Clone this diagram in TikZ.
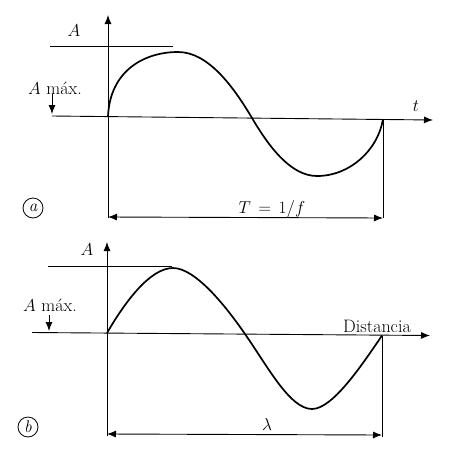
\documentclass[tikz,border=0pt]{standalone}
\usetikzlibrary{arrows.meta}
\begin{document}
\begin{tikzpicture}[x=1pt,y=-1pt,
  axis/.style={line width=0.9pt,-{Latex[length=9pt,width=7pt]}},
  thin line/.style={line width=0.9pt},
  dim/.style={line width=0.9pt,{Latex[length=9pt,width=7pt]}-{Latex[length=9pt,width=7pt]}},
  wave/.style={line width=1.7pt},
  lbl/.style={font=\fontsize{18}{20}\selectfont,inner sep=0pt},
  tag/.style={circle,draw,line width=0.8pt,minimum size=20pt,inner sep=0pt,font=\fontsize{17}{19}\selectfont\itshape}]
\useasboundingbox (0,0) rectangle (450,448);
% ---------- panel a ----------
\coordinate (aO) at (108,116.5);
\coordinate (aTop) at (108,15);
\coordinate (aBot) at (108,218);
\coordinate (aL) at (52,116);
\coordinate (aR) at (433,120);
\coordinate (aPk) at (178,52);
\coordinate (aX) at (252,118);
\coordinate (aMn) at (317,176);
\coordinate (aE) at (383,119);
\coordinate (aEb) at (383,218);
\coordinate (aDL) at (108,217);
\coordinate (aDR) at (383,218);
\draw[axis] (aBot) -- (aTop);
\draw[axis] (aL) -- (aR);
\draw[thin line] (50,46) -- (173,46);
\node[lbl] (aA) at (74,31) {$A$};
\node[lbl] (aAm) at (55,88) {$A$ máx.};
\draw[axis] (52,94) -- (52,114);
\node[lbl] (at) at (416,106) {$t$};
\draw[wave] (aO) .. controls (110,70) and (145,52) .. (aPk)
  .. controls (208,52) and (233,86) .. (aX)
  .. controls (268,145) and (290,176) .. (aMn)
  .. controls (350,176) and (378,150) .. (aE);
\draw[thin line] (aE) -- (aEb);
\draw[dim] (aDL) -- (aDR);
\node[lbl,anchor=base] (aT) at (272,213) {$T\,=\,1/f$};
\node[tag] (ta) at (33,208) {a};
% ---------- panel b ----------
\coordinate (bO) at (107,333);
\coordinate (bTop) at (107,242);
\coordinate (bBot) at (107,436);
\coordinate (bL) at (32,332.5);
\coordinate (bR) at (430,335.5);
\coordinate (bPk) at (173,268);
\coordinate (bX) at (245,334);
\coordinate (bMn) at (312,409);
\coordinate (bE) at (382,335.5);
\coordinate (bEb) at (382,437);
\coordinate (bDL) at (107,434);
\coordinate (bDR) at (382,435);
\draw[axis] (bBot) -- (bTop);
\draw[axis] (bL) -- (bR);
\draw[thin line] (48,266) -- (172,266);
\node[lbl] (bA) at (87,250) {$A$};
\node[lbl] (bAm) at (50,305) {$A$ máx.};
\draw[axis] (49,315) -- (49,331);
\node[lbl,anchor=base] (bD) at (377,332) {Distancia};
\draw[wave] (bO) .. controls (125,302) and (150,268) .. (bPk)
  .. controls (195,268) and (225,305) .. (bX)
  .. controls (268,367) and (290,409) .. (bMn)
  .. controls (332,409) and (360,368) .. (bE);
\draw[thin line] (bE) -- (bEb);
\draw[dim] (bDL) -- (bDR);
\node[lbl] (bl) at (267,424) {$\lambda$};
\node[tag] (tb) at (28,427) {b};
\end{tikzpicture}
\end{document}
